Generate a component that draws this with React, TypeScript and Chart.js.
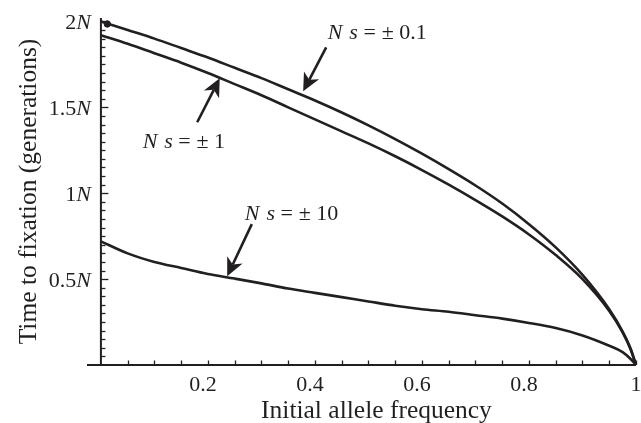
import { useEffect, useRef } from 'react';
import { Chart, registerables } from 'chart.js';

Chart.register(...registerables);

// ---- data ----
const freq = [0, 0.05, 0.1, 0.15, 0.2, 0.25, 0.3, 0.35, 0.4, 0.45, 0.5, 0.55, 0.6, 0.65, 0.7, 0.75, 0.8, 0.85, 0.9, 0.95, 0.975, 0.99, 1];
const nsTenth = [2.0, 1.95, 1.9, 1.845, 1.79, 1.73, 1.67, 1.605, 1.54, 1.47, 1.395, 1.315, 1.23, 1.14, 1.045, 0.94, 0.82, 0.685, 0.525, 0.325, 0.195, 0.095, 0];
const nsOne = [1.92, 1.87, 1.815, 1.76, 1.7, 1.635, 1.57, 1.5, 1.43, 1.36, 1.29, 1.215, 1.135, 1.05, 0.96, 0.865, 0.76, 0.64, 0.5, 0.315, 0.19, 0.09, 0];
const nsTen = [0.72, 0.65, 0.6, 0.565, 0.53, 0.503, 0.475, 0.445, 0.42, 0.395, 0.37, 0.345, 0.325, 0.31, 0.29, 0.27, 0.245, 0.215, 0.172, 0.112, 0.075, 0.035, 0];
const startMarker = [{ x: 0.012, y: 1.985 }];

const xTickValues = [0.2, 0.4, 0.6, 0.8, 1];
const xTickLabels = ['0.2', '0.4', '0.6', '0.8', '1'];
const yTickValues = [0.5, 1, 1.5, 2];
const yTickLabels = ['0.5', '1', '1.5', '2'];

const xTitle = 'Initial allele frequency';
const yTitle = 'Time to fixation (generations)';

// annotation labels (value part), text anchor (left, baseline) and arrow tail/tip in data units
const annValues = ['± 0.1', '± 1', '± 10'];
const annText = [
  { x: 0.424, y: 1.9 },
  { x: 0.078, y: 1.262 },
  { x: 0.269, y: 0.843 },
];
const annTail = [
  { x: 0.421, y: 1.849 },
  { x: 0.18, y: 1.413 },
  { x: 0.282, y: 0.82 },
];
const annTip = [
  { x: 0.378, y: 1.593 },
  { x: 0.222, y: 1.669 },
  { x: 0.236, y: 0.517 },
];

const INK = '#231f20';
const SERIF = '"Liberation Serif", "Times New Roman", serif';
const X_MIN = -0.026;
const Y_MAX = 2.02;

function drawArrow(ctx: CanvasRenderingContext2D, x1: number, y1: number, x2: number, y2: number) {
  const ang = Math.atan2(y2 - y1, x2 - x1);
  const dx = Math.cos(ang), dy = Math.sin(ang);
  const px = -dy, py = dx;
  const L = 18, W = 8.5, notch = 5;
  ctx.lineWidth = 2.6;
  ctx.beginPath();
  ctx.moveTo(x1, y1);
  ctx.lineTo(x2 - (L - notch) * dx, y2 - (L - notch) * dy);
  ctx.stroke();
  ctx.beginPath();
  ctx.moveTo(x2, y2);
  ctx.lineTo(x2 - L * dx + W * px, y2 - L * dy + W * py);
  ctx.lineTo(x2 - (L - notch) * dx, y2 - (L - notch) * dy);
  ctx.lineTo(x2 - L * dx - W * px, y2 - L * dy - W * py);
  ctx.closePath();
  ctx.fill();
}

const axesPlugin = {
  id: 'mathAxes',
  beforeDatasetsDraw(chart: any) {
    const { ctx } = chart;
    const xs = chart.scales.x, ys = chart.scales.y;
    const x0 = xs.getPixelForValue(0);
    const yb = ys.getPixelForValue(0);
    ctx.save();
    ctx.strokeStyle = INK;
    ctx.fillStyle = INK;
    ctx.lineWidth = 2;
    ctx.beginPath();
    ctx.moveTo(xs.getPixelForValue(X_MIN), yb);
    ctx.lineTo(xs.getPixelForValue(1), yb);
    ctx.stroke();
    ctx.beginPath();
    ctx.moveTo(x0, yb);
    ctx.lineTo(x0, ys.getPixelForValue(Y_MAX));
    ctx.stroke();
    ctx.lineWidth = 1.3;
    for (let i = 1; i <= 20; i++) {
      const px = Math.round(xs.getPixelForValue(i * 0.05)) + 0.5;
      ctx.beginPath();
      ctx.moveTo(px, yb);
      ctx.lineTo(px, yb - 4.5);
      ctx.stroke();
    }
    for (let j = 1; j <= 40; j++) {
      const py = Math.round(ys.getPixelForValue(j * 0.05)) + 0.5;
      const len = j % 10 === 0 ? 7.5 : 4.5;
      ctx.beginPath();
      ctx.moveTo(x0, py);
      ctx.lineTo(x0 + len, py);
      ctx.stroke();
    }
    // tick labels
    ctx.font = `22px ${SERIF}`;
    ctx.textBaseline = 'alphabetic';
    ctx.textAlign = 'center';
    xTickValues.forEach((v, i) => {
      const lab = xTickLabels[i];
      const off = lab.includes('.') ? -5 : 0;
      ctx.fillText(lab, xs.getPixelForValue(v) + off, yb + 26);
    });
    ctx.textAlign = 'left';
    yTickValues.forEach((v, i) => {
      const py = ys.getPixelForValue(v);
      ctx.font = `italic 22px ${SERIF}`;
      const wN = ctx.measureText('N').width;
      ctx.font = `22px ${SERIF}`;
      const wNum = ctx.measureText(yTickLabels[i]).width;
      const right = x0 - 10;
      ctx.fillText(yTickLabels[i], right - wN - wNum, py + 7.5);
      ctx.font = `italic 22px ${SERIF}`;
      ctx.fillText('N', right - wN, py + 7.5);
    });
    // axis titles
    ctx.font = `25.5px ${SERIF}`;
    ctx.textAlign = 'center';
    ctx.fillText(xTitle, (xs.getPixelForValue(0) + xs.getPixelForValue(1)) / 2 + 8, yb + 53);
    ctx.save();
    ctx.translate(x0 - 65, ys.getPixelForValue(1.01));
    ctx.rotate(-Math.PI / 2);
    ctx.fillText(yTitle, 0, 0);
    ctx.restore();
    ctx.restore();
  },
  afterDatasetsDraw(chart: any) {
    const { ctx } = chart;
    const xs = chart.scales.x, ys = chart.scales.y;
    ctx.save();
    ctx.strokeStyle = INK;
    ctx.fillStyle = INK;
    ctx.textBaseline = 'alphabetic';
    ctx.textAlign = 'left';
    const fs = 22;
    annValues.forEach((val, i) => {
      const tx = xs.getPixelForValue(annText[i].x);
      const ty = ys.getPixelForValue(annText[i].y);
      ctx.font = `italic ${fs}px ${SERIF}`;
      ctx.fillText('N', tx, ty);
      ctx.fillText('s', tx + 0.98 * fs, ty);
      ctx.font = `${fs}px ${SERIF}`;
      ctx.fillText('=', tx + 1.62 * fs, ty);
      ctx.fillText(val, tx + 2.45 * fs, ty);
      drawArrow(
        ctx,
        xs.getPixelForValue(annTail[i].x), ys.getPixelForValue(annTail[i].y),
        xs.getPixelForValue(annTip[i].x), ys.getPixelForValue(annTip[i].y)
      );
    });
    ctx.restore();
  },
};

export default function App() {
  const ref = useRef<HTMLCanvasElement | null>(null);
  useEffect(() => {
    document.body.style.margin = '0';
    const canvas = ref.current;
    if (!canvas) return;
    const mk = (vals: number[]) => freq.map((p, i) => ({ x: p, y: vals[i] }));
    const lineStyle = {
      borderColor: INK,
      borderWidth: 2.6,
      pointRadius: 0,
      fill: false,
      cubicInterpolationMode: 'monotone' as const,
    };
    const chart = new Chart(canvas, {
      type: 'line',
      data: {
        datasets: [
          { label: 'Ns = ±0.1', data: mk(nsTenth), ...lineStyle },
          { label: 'Ns = ±1', data: mk(nsOne), ...lineStyle },
          { label: 'Ns = ±10', data: mk(nsTen), ...lineStyle },
          {
            label: 'start',
            type: 'scatter',
            data: startMarker,
            pointRadius: 3.2,
            pointBackgroundColor: INK,
            pointBorderColor: INK,
            showLine: false,
          } as any,
        ],
      },
      options: {
        animation: false,
        responsive: false,
        layout: { padding: { left: 87, right: 5, top: 18, bottom: 58 } },
        plugins: { legend: { display: false }, tooltip: { enabled: false } },
        scales: {
          x: { type: 'linear', min: X_MIN, max: 1, display: false },
          y: { type: 'linear', min: 0, max: Y_MAX, display: false },
        },
      },
      plugins: [axesPlugin],
    });
    return () => chart.destroy();
  }, []);
  return (
    <div style={{ width: 641, height: 423, background: '#fff' }}>
      <canvas ref={ref} width={641} height={423} />
    </div>
  );
}
